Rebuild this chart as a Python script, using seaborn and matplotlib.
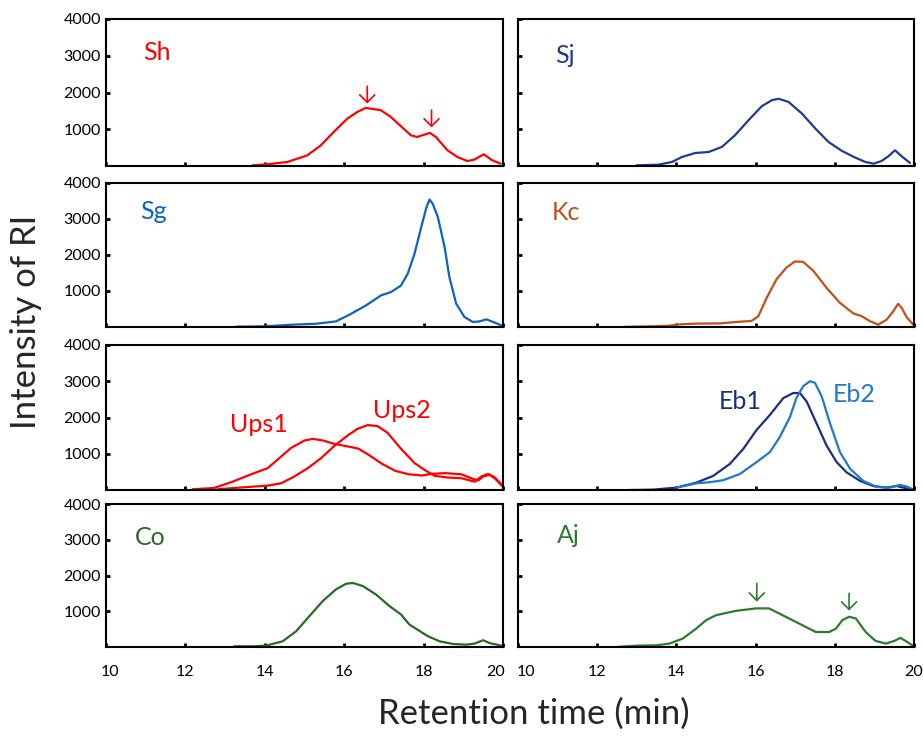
import matplotlib
matplotlib.use("Agg")
import matplotlib.pyplot as plt
import matplotlib.transforms as mtransforms
import seaborn as sns
import pandas as pd

# ---------------- data ----------------
sh_t = [13.70, 14.06, 14.57, 15.07, 15.41, 15.74, 16.08, 16.33, 16.54, 16.92, 17.17, 17.43, 17.68, 17.84, 17.97, 18.16, 18.31, 18.60, 18.85, 19.10, 19.27, 19.52, 19.73, 19.94]
sh_i = [20, 45, 110, 290, 560, 930, 1290, 1470, 1580, 1520, 1340, 1080, 836, 790, 836, 900, 790, 430, 245, 136, 170, 318, 155, 64]

sj_t = [13.00, 13.55, 13.89, 14.14, 14.48, 14.81, 15.15, 15.48, 15.82, 16.16, 16.41, 16.58, 16.83, 17.17, 17.51, 17.84, 18.18, 18.52, 18.77, 18.98, 19.18, 19.35, 19.52, 19.69, 19.90]
sj_i = [18, 36, 110, 245, 355, 380, 520, 836, 1245, 1630, 1790, 1830, 1745, 1427, 1018, 655, 410, 227, 110, 64, 136, 264, 427, 264, 82]

sg_t = [13.27, 14.03, 14.70, 15.29, 15.79, 16.13, 16.55, 16.93, 17.18, 17.43, 17.60, 17.77, 17.94, 18.07, 18.15, 18.23, 18.36, 18.53, 18.65, 18.82, 19.03, 19.24, 19.41, 19.58, 19.75, 19.96]
sg_i = [10, 20, 65, 90, 155, 340, 600, 880, 970, 1150, 1480, 2030, 2770, 3320, 3540, 3420, 3050, 2215, 1385, 650, 277, 140, 155, 212, 140, 46]

kc_t = [12.70, 13.41, 13.83, 14.09, 14.51, 15.10, 15.52, 15.90, 16.07, 16.28, 16.53, 16.78, 16.99, 17.20, 17.46, 17.79, 18.13, 18.47, 18.68, 18.89, 19.10, 19.31, 19.48, 19.60, 19.69, 19.81, 19.98]
kc_i = [5, 20, 37, 75, 95, 100, 140, 170, 300, 810, 1330, 1650, 1820, 1810, 1560, 1090, 670, 375, 300, 160, 65, 205, 440, 645, 530, 280, 65]

ups1_t = [12.18, 12.72, 13.19, 13.73, 14.07, 14.32, 14.66, 15.00, 15.21, 15.47, 15.76, 16.10, 16.36, 16.61, 16.95, 17.28, 17.62, 17.96, 18.19, 18.53, 18.95, 19.20, 19.37, 19.50, 19.66, 19.79, 20.00]
ups1_i = [20, 55, 230, 465, 600, 835, 1160, 1365, 1410, 1365, 1270, 1200, 1140, 975, 725, 530, 435, 400, 445, 465, 435, 325, 260, 370, 420, 325, 90]

ups2_t = [12.81, 13.48, 14.07, 14.41, 14.74, 15.08, 15.42, 15.76, 16.09, 16.34, 16.59, 16.84, 17.09, 17.43, 17.77, 18.02, 18.28, 18.61, 18.95, 19.29, 19.45, 19.62, 19.79, 20.00]
ups2_i = [20, 75, 120, 185, 370, 600, 880, 1225, 1505, 1690, 1790, 1765, 1580, 1140, 745, 557, 390, 345, 325, 230, 370, 445, 350, 110]

eb1_t = [12.82, 13.41, 14.00, 14.51, 14.93, 15.35, 15.69, 16.02, 16.36, 16.70, 16.95, 17.12, 17.29, 17.54, 17.79, 18.05, 18.30, 18.64, 18.97, 19.31, 19.56, 19.73, 19.98]
eb1_i = [0, 10, 65, 205, 390, 720, 1135, 1650, 2070, 2535, 2675, 2675, 2440, 1835, 1230, 765, 485, 250, 110, 65, 110, 65, 0]

eb2_t = [14.00, 14.51, 14.85, 15.18, 15.60, 16.02, 16.36, 16.61, 16.87, 17.03, 17.20, 17.37, 17.50, 17.67, 17.88, 18.13, 18.39, 18.72, 19.06, 19.39, 19.64, 19.81, 20.00]
eb2_i = [65, 185, 215, 270, 440, 765, 1045, 1460, 2020, 2535, 2860, 3000, 2955, 2580, 1835, 1045, 580, 250, 85, 65, 140, 100, 0]

co_t = [13.23, 13.69, 14.03, 14.45, 14.79, 15.12, 15.46, 15.79, 16.05, 16.22, 16.47, 16.80, 17.14, 17.43, 17.64, 18.11, 18.40, 18.74, 19.07, 19.28, 19.50, 19.66, 19.96]
co_i = [20, 20, 37, 160, 440, 860, 1285, 1610, 1770, 1790, 1705, 1470, 1145, 910, 630, 300, 160, 85, 65, 95, 190, 110, 37]

aj_t = [12.48, 12.98, 13.49, 13.82, 14.16, 14.50, 14.75, 15.00, 15.50, 16.01, 16.34, 16.68, 17.10, 17.52, 17.86, 18.03, 18.19, 18.36, 18.53, 18.78, 19.03, 19.29, 19.50, 19.66, 19.83, 20.00]
aj_i = [0, 37, 47, 95, 235, 515, 750, 890, 1010, 1080, 1080, 890, 655, 420, 420, 515, 750, 845, 800, 420, 170, 95, 170, 255, 140, 20]

x_ticks = [10, 12, 14, 16, 18, 20]
x_tick_labels = ["10", "12", "14", "16", "18", "20"]
y_ticks = [1000, 2000, 3000, 4000]
y_tick_labels = ["1000", "2000", "3000", "4000"]

C_RED = "#ff0000"
C_SJ = "#1f3c8c"
C_SG = "#0f62bd"
C_KC = "#c0501a"
C_EB1 = "#1a2f80"
C_EB2 = "#2277c8"
C_CO = "#2a6a22"
C_AJ = "#2e7a2e"

sns.set_style("ticks")
plt.rcParams["font.family"] = ["Lato", "DejaVu Sans"]

fig = plt.figure(figsize=(9.23, 7.37), dpi=100)

W, H = 923.0, 737.0
cols = [(106, 503), (518, 914)]
rows = [(19, 166), (183, 327), (345, 490), (504, 647)]

axes = {}
for r, (top, bot) in enumerate(rows):
    for c, (l, rgt) in enumerate(cols):
        ax = fig.add_axes([l / W, 1 - bot / H, (rgt - l) / W, (bot - top) / H])
        axes[(r, c)] = ax


def curve(ax, t, i, color):
    df = pd.DataFrame({"t": t, "i": i})
    sns.lineplot(data=df, x="t", y="i", ax=ax, color=color, linewidth=1.6)
    for ln in ax.lines:
        ln.set_solid_joinstyle("round")
    ax.set_xlabel("")
    ax.set_ylabel("")


def label(ax, x, y, s, color):
    ax.text(x, y, s, color=color, fontsize=18, ha="left", va="center")


def arrow(ax, x, y0, y1, color):
    ax.annotate("", xy=(x, y1), xytext=(x, y0),
                arrowprops=dict(arrowstyle="->, head_length=0.3, head_width=0.3",
                                color=color, lw=1.2, mutation_scale=18,
                                shrinkA=0, shrinkB=0))


ax = axes[(0, 0)]
curve(ax, sh_t, sh_i, C_RED)
label(ax, 10.93, 3075, "Sh", C_RED)
arrow(ax, 16.58, 2170, 1700, C_RED)
arrow(ax, 18.20, 1520, 1050, C_RED)

ax = axes[(0, 1)]
curve(ax, sj_t, sj_i, C_SJ)
label(ax, 10.93, 3020, "Sj", C_SJ)

ax = axes[(1, 0)]
curve(ax, sg_t, sg_i, C_SG)
label(ax, 10.86, 3200, "Sg", C_SG)

ax = axes[(1, 1)]
curve(ax, kc_t, kc_i, C_KC)
label(ax, 10.86, 3170, "Kc", C_KC)

ax = axes[(2, 0)]
curve(ax, ups1_t, ups1_i, C_RED)
curve(ax, ups2_t, ups2_i, C_RED)
ax.text(13.85, 1810, "Ups1", color=C_RED, fontsize=18, ha="center", va="center")
ax.text(17.45, 2180, "Ups2", color=C_RED, fontsize=18, ha="center", va="center")

ax = axes[(2, 1)]
curve(ax, eb1_t, eb1_i, C_EB1)
curve(ax, eb2_t, eb2_i, C_EB2)
ax.text(15.6, 2440, "Eb1", color=C_EB1, fontsize=18, ha="center", va="center")
ax.text(18.5, 2630, "Eb2", color=C_EB2, fontsize=18, ha="center", va="center")

ax = axes[(3, 0)]
curve(ax, co_t, co_i, C_CO)
label(ax, 10.73, 3050, "Co", C_CO)

ax = axes[(3, 1)]
curve(ax, aj_t, aj_i, C_AJ)
label(ax, 10.98, 3130, "Aj", C_AJ)
arrow(ax, 16.03, 1780, 1270, C_AJ)
arrow(ax, 18.36, 1500, 1020, C_AJ)

# axis styling (after plotting so seaborn cannot alter it)
for (r, c), ax in axes.items():
    ax.set_xlim(10, 20)
    ax.set_ylim(0, 4000)
    ax.set_xticks(x_ticks)
    ax.set_yticks(y_ticks)
    ax.tick_params(direction="in", length=3, width=2, labelsize=11.5, colors="black")
    ax.tick_params(axis="x", pad=13)
    if c == 1:
        ax.set_yticklabels([])
    else:
        ax.set_yticklabels(y_tick_labels)
    if r != 3:
        ax.set_xticklabels([])
    else:
        ax.set_xticklabels(x_tick_labels)
    for s in ax.spines.values():
        s.set_linewidth(1.5)
        s.set_color("black")

fig.text(26 / W, 1 - 322 / H, "Intensity of RI", rotation=90, fontsize=25,
         ha="center", va="center")
fig.text(534 / W, 1 - 714 / H, "Retention time (min)", fontsize=25,
         ha="center", va="center")

fig.canvas.draw()
# nudge the touching end labels between the two bottom panels apart
lab_left = axes[(3, 0)].get_xticklabels()
lab_right = axes[(3, 1)].get_xticklabels()
lab_left[-1].set_transform(lab_left[-1].get_transform() +
                           mtransforms.ScaledTranslation(-7 / 100, 0, fig.dpi_scale_trans))
lab_left[0].set_transform(lab_left[0].get_transform() +
                          mtransforms.ScaledTranslation(4 / 100, 0, fig.dpi_scale_trans))
lab_right[0].set_transform(lab_right[0].get_transform() +
                           mtransforms.ScaledTranslation(8 / 100, 0, fig.dpi_scale_trans))

fig.savefig("out.png", dpi=100)
